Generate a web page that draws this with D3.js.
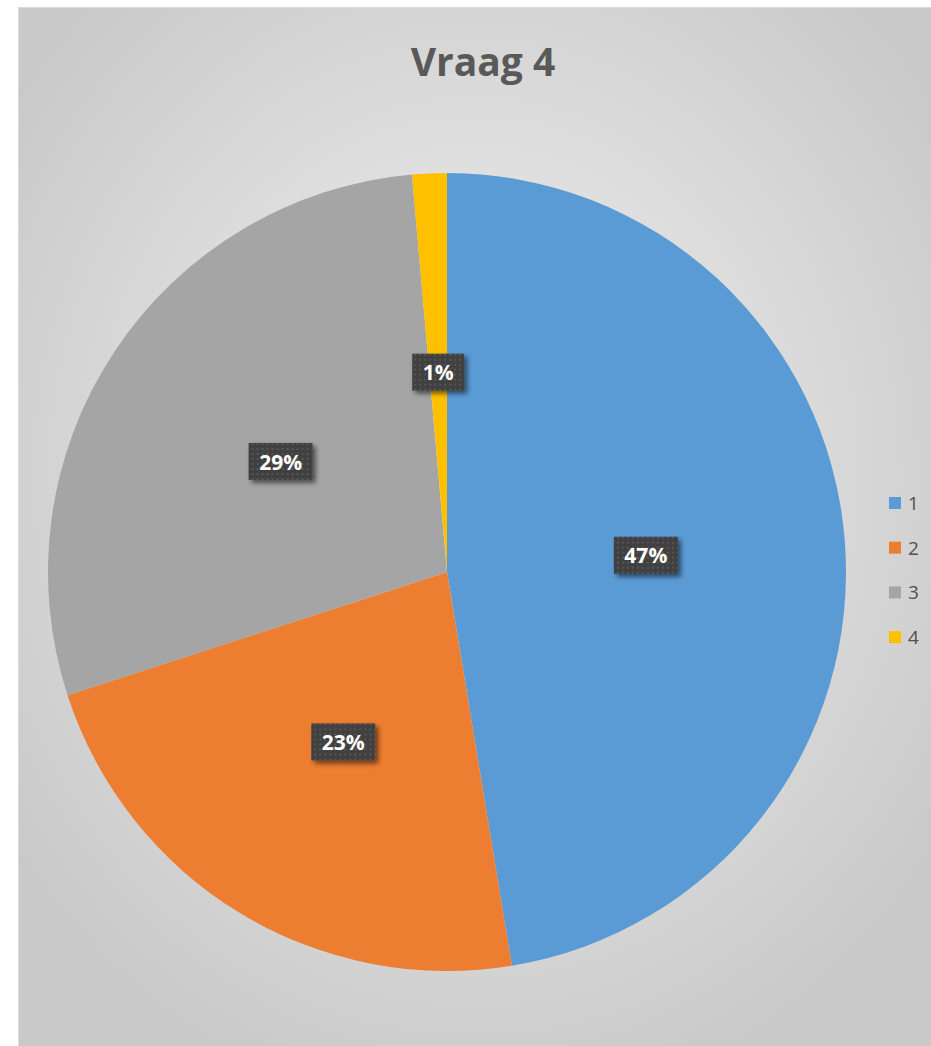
<!DOCTYPE html>
<html>
<head>
<meta charset="utf-8">
<script src="https://cdn.jsdelivr.net/npm/d3@7"></script>
<style>
  body { margin: 0; background: #fff; }
  svg { display: block; }
</style>
</head>
<body>
<div id="chart"></div>
<script>
// answers to "Vraag 4" (share in %)
let categories = ['1', '2', '3', '4'];
let shares = [47.4, 22.6, 28.6, 1.4];
let colors = ['#5b9bd5', '#ed7d31', '#a5a5a5', '#ffc000'];

var W = 931, H = 1046;
var svg = d3.select('#chart').append('svg').attr('width', W).attr('height', H);

var defs = svg.append('defs');
var bg = defs.append('radialGradient').attr('id', 'bg')
    .attr('cx', '50%').attr('cy', '45%').attr('r', '62%');
bg.append('stop').attr('offset', '0%').attr('stop-color', '#f3f3f3');
bg.append('stop').attr('offset', '100%').attr('stop-color', '#c9c9c9');

var pat = defs.append('pattern').attr('id', 'dots')
    .attr('width', 5).attr('height', 5).attr('patternUnits', 'userSpaceOnUse');
pat.append('rect').attr('width', 5).attr('height', 5).attr('fill', '#404040');
pat.append('rect').attr('x', 1).attr('y', 1).attr('width', 2).attr('height', 2).attr('fill', '#555555');

var shadow = defs.append('filter').attr('id', 'shadow')
    .attr('x', '-30%').attr('y', '-30%').attr('width', '160%').attr('height', '160%');
shadow.append('feDropShadow').attr('dx', 3).attr('dy', 3).attr('stdDeviation', 2.5)
    .attr('flood-color', '#000').attr('flood-opacity', 0.55);

// chart area
svg.append('rect').attr('x', 18.5).attr('y', 7.5).attr('width', W - 18).attr('height', H - 7)
    .attr('fill', 'url(#bg)').attr('stroke', '#d9d9d9').attr('stroke-width', 1);

svg.append('text').text('Vraag 4')
    .attr('x', 483).attr('y', 76)
    .attr('text-anchor', 'middle')
    .style('font-family', '"Open Sans", sans-serif').style('font-weight', 'bold')
    .style('font-size', '39px').style('fill', '#595959');

// pie
var cx = 447, cy = 572, radius = 399;
var data = categories.map((c, i) => ({ cat: c, value: shares[i], color: colors[i] }));
var total = d3.sum(shares);

var pie = d3.pie().value(d => d.value).sort(null);
var arc = d3.arc().innerRadius(0).outerRadius(radius);

var g = svg.append('g').attr('transform', 'translate(' + cx + ',' + cy + ')');
var arcs = pie(data);

g.selectAll('path').data(arcs).enter().append('path')
    .attr('d', arc).attr('fill', d => d.data.color);

var fmt = d3.format('.0%');
var labels = g.selectAll('g.lbl').data(arcs).enter().append('g')
    .attr('class', 'lbl')
    .attr('transform', d => 'translate(' + arc.centroid(d) + ')');

labels.append('rect')
    .attr('x', d => fmt(d.data.value / total).length > 2 ? -32 : -26)
    .attr('y', -19)
    .attr('width', d => fmt(d.data.value / total).length > 2 ? 64 : 52)
    .attr('height', 37)
    .attr('fill', 'url(#dots)')
    .attr('filter', 'url(#shadow)');

labels.append('text')
    .text(d => fmt(d.data.value / total))
    .attr('text-anchor', 'middle').attr('dy', '0.36em')
    .style('font-family', '"Open Sans", sans-serif').style('font-weight', 'bold')
    .style('font-size', '21px').style('fill', '#fff');

// legend
var legend = svg.append('g').attr('transform', 'translate(889,497)');
var items = legend.selectAll('g').data(data).enter().append('g')
    .attr('transform', (d, i) => 'translate(0,' + (i * 44.7) + ')');
items.append('rect').attr('width', 12).attr('height', 12).attr('fill', d => d.color);
items.append('text').text(d => d.cat)
    .attr('x', 19).attr('y', 6).attr('dy', '0.36em')
    .style('font-family', '"Open Sans", sans-serif')
    .style('font-size', '19px').style('fill', '#505050');
</script>
</body>
</html>
